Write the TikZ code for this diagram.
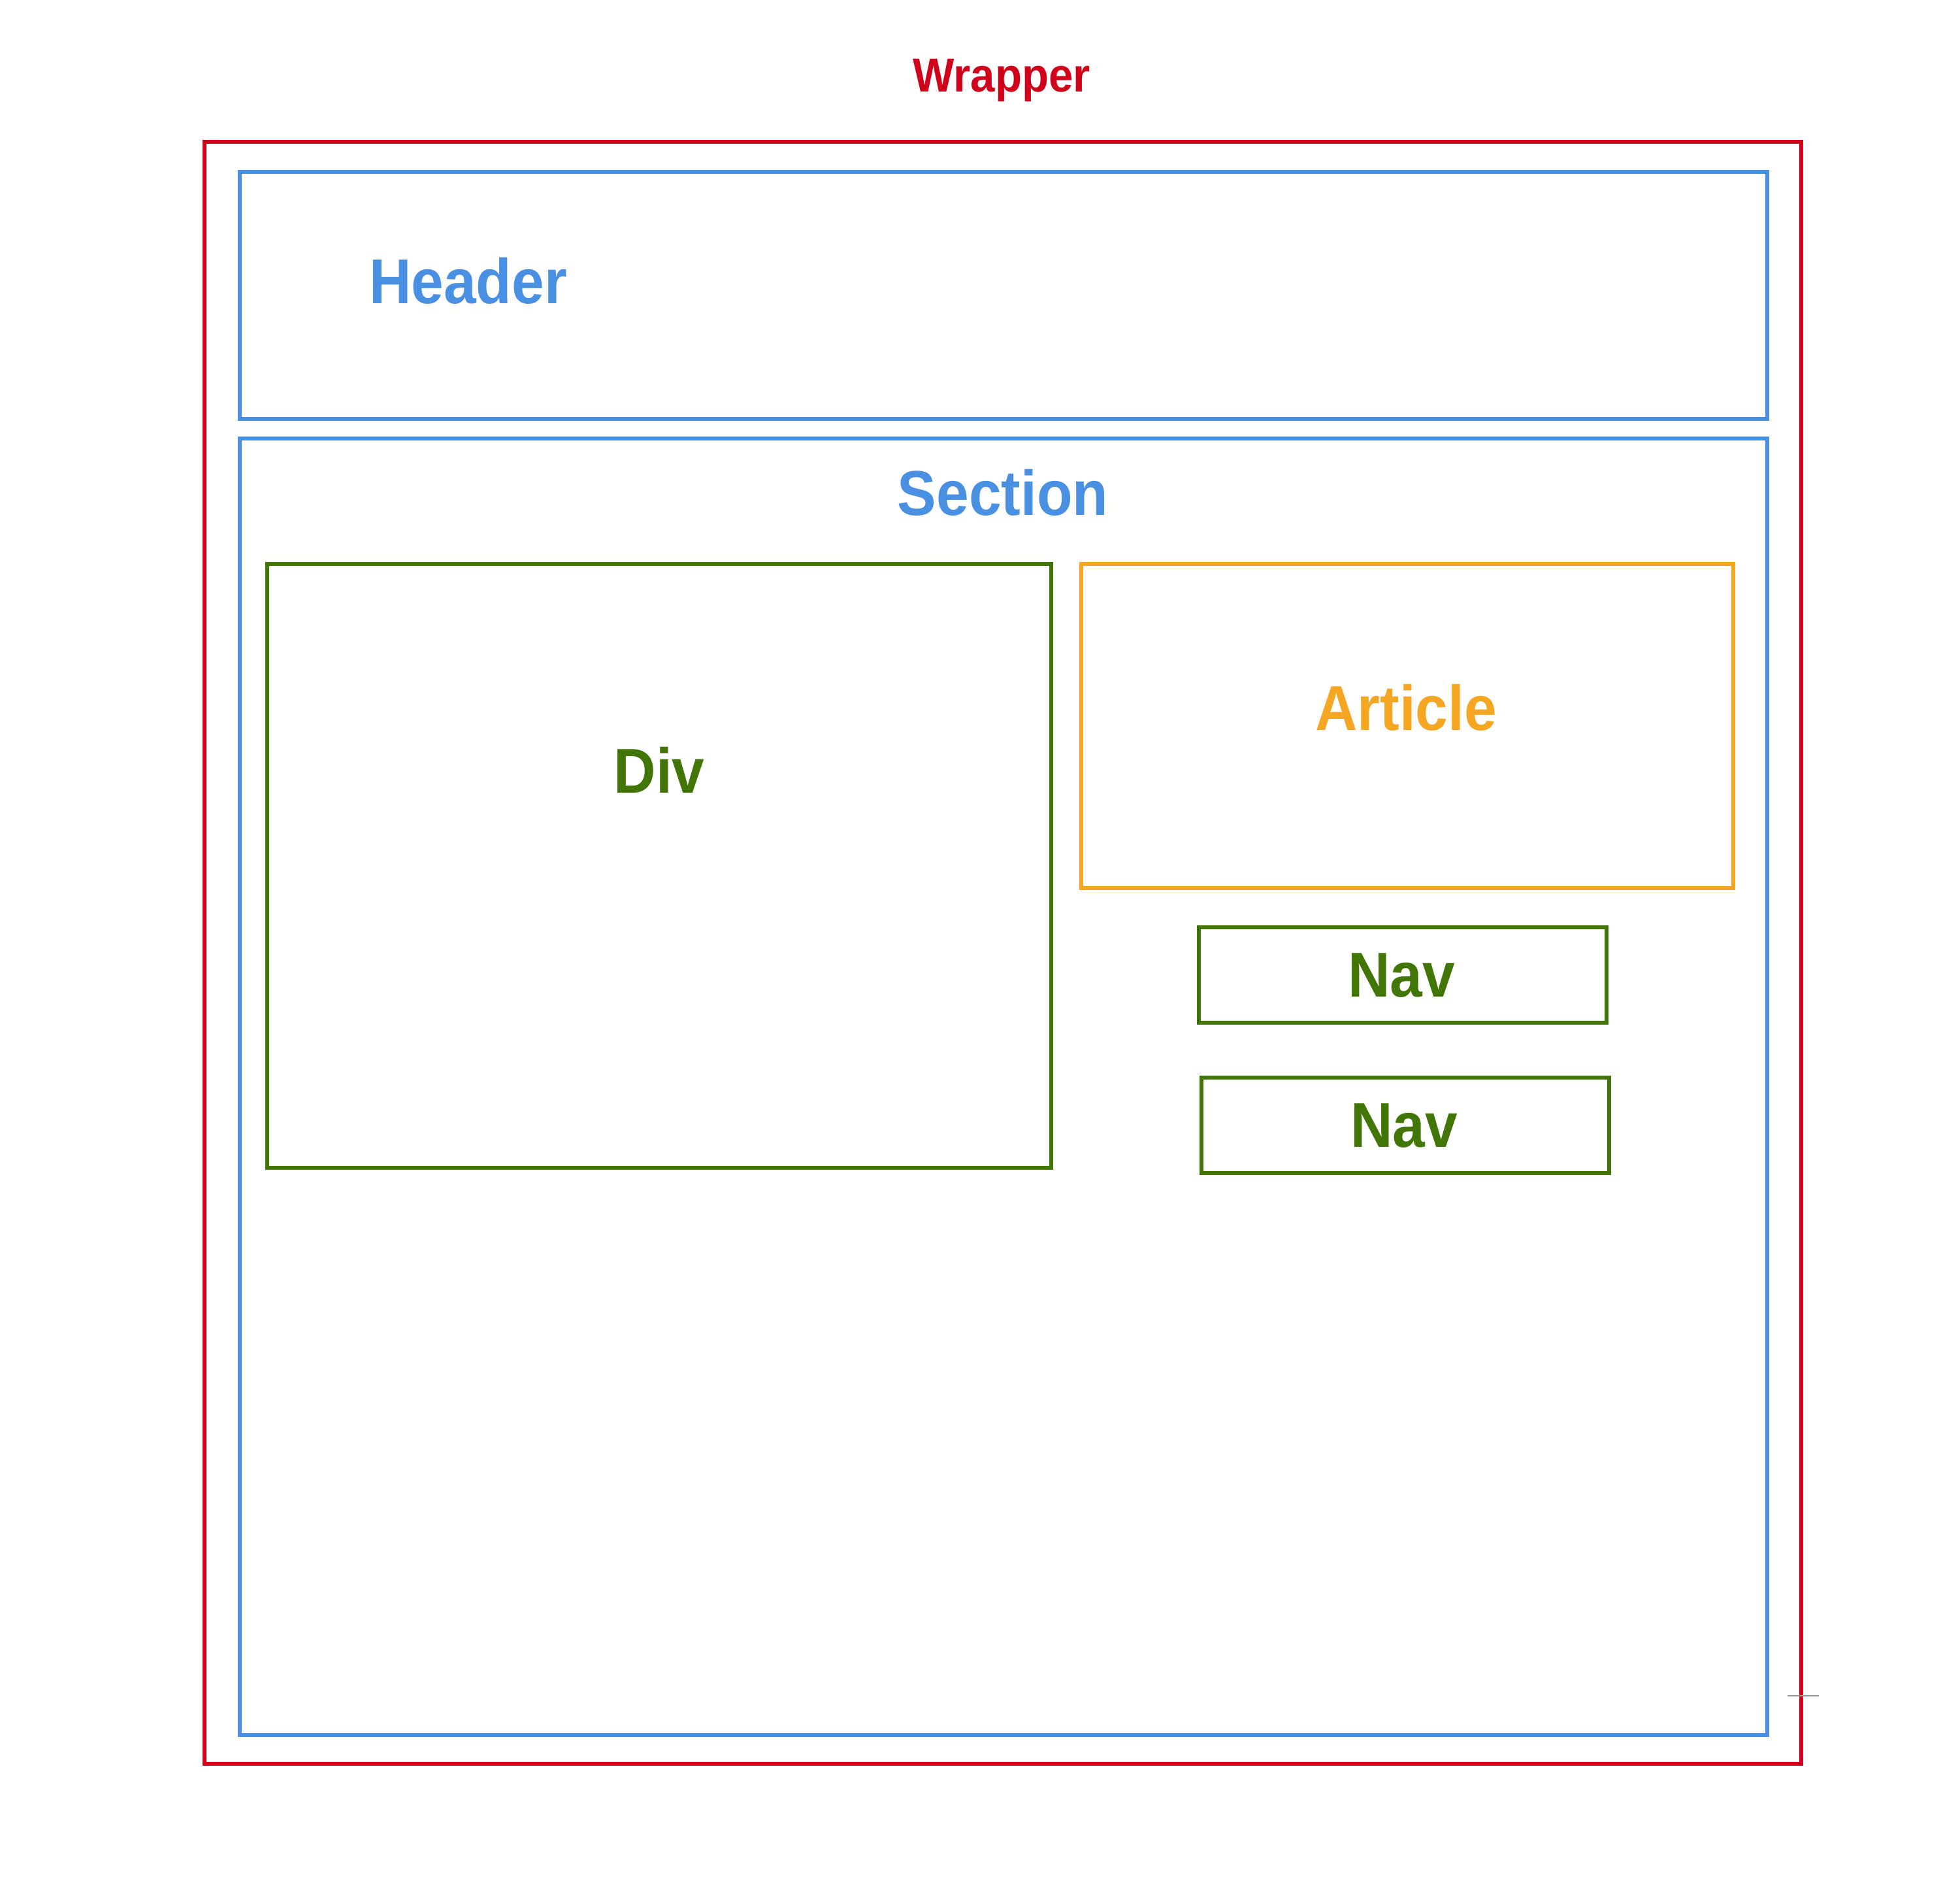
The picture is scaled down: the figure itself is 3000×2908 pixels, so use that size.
\documentclass[tikz,border=0pt]{standalone}
\usepackage{fontspec}
\setmainfont{Liberation Sans}
\definecolor{wred}{HTML}{D0021B}
\definecolor{wblue}{HTML}{4A90E2}
\definecolor{wgreen}{HTML}{417505}
\definecolor{worange}{HTML}{F5A623}
\definecolor{wgray}{HTML}{979797}
\newcommand{\narrowtxt}[1]{\scalebox{0.92}[1]{#1}}
\begin{document}
\begin{tikzpicture}[x=1pt,y=-1pt,
  boxstyle/.style={draw, line width=6pt, inner sep=0pt, outer sep=0pt},
  bigtext/.style={font=\fontsize{97}{100}\selectfont\bfseries, inner sep=0pt, anchor=base},
  smalltext/.style={font=\fontsize{73}{76}\selectfont\bfseries, inner sep=0pt, anchor=base}]
\useasboundingbox (0,0) rectangle (3000,2908);
% wrapper
\node[boxstyle, wred, minimum width=2444pt, minimum height=2482pt] (wrapper) at (1535,1458) {};
\node[smalltext, text=wred] (wrapperlabel) at (1533,140) {\narrowtxt{Wrapper}};
% header
\node[boxstyle, wblue, minimum width=2338pt, minimum height=378pt] (header) at (1536,452) {};
\node[bigtext, text=wblue, anchor=base west] (headerlabel) at (565,464) {\narrowtxt{Header}};
% section
\node[boxstyle, wblue, minimum width=2338pt, minimum height=1984pt] (section) at (1536,1663) {};
\node[bigtext, text=wblue] (sectionlabel) at (1535,788) {\narrowtxt{Section}};
% div
\node[boxstyle, wgreen, minimum width=1200pt, minimum height=924pt] (div) at (1009,1325) {};
\node[bigtext, text=wgreen] (divlabel) at (1009,1213) {\narrowtxt{Div}};
% article
\node[boxstyle, worange, minimum width=998pt, minimum height=496pt] (article) at (2154,1111) {};
\node[bigtext, text=worange] (articlelabel) at (2152,1117) {\narrowtxt{Article}};
% navs
\node[boxstyle, wgreen, minimum width=624pt, minimum height=146pt] (navone) at (2147,1492) {};
\node[bigtext, text=wgreen] (navonelabel) at (2145,1525) {\narrowtxt{Nav}};
\node[boxstyle, wgreen, minimum width=624pt, minimum height=146pt] (navtwo) at (2151,1722) {};
\node[bigtext, text=wgreen] (navtwolabel) at (2149,1755) {\narrowtxt{Nav}};
% stray gray line
\coordinate (gA) at (2736,2595);
\coordinate (gB) at (2784,2595);
\draw[wgray, line width=2pt] (gA) -- (gB);
\end{tikzpicture}
\end{document}
